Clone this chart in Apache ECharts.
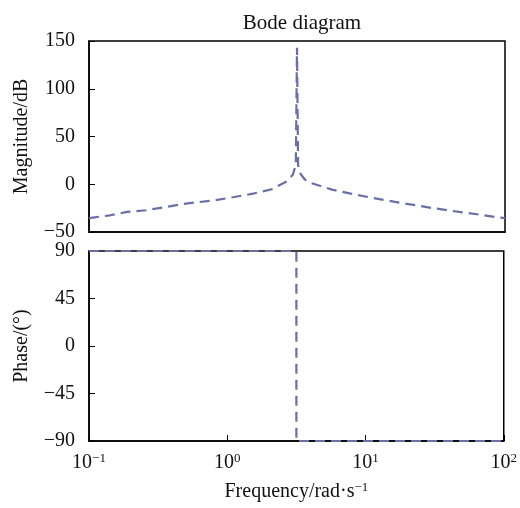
<!DOCTYPE html>
<html>
<head>
<meta charset="utf-8">
<script src="https://cdn.jsdelivr.net/npm/echarts@6/dist/echarts.min.js"></script>
<style>
  html, body { margin: 0; padding: 0; background: #fff; }
  #chart { width: 520px; height: 508px; }
</style>
</head>
<body>
<div id="chart"></div>
<script>
// 幅频数据
var magFreq = [0.1, 0.11, 0.142, 0.188, 0.258, 0.359, 0.501, 0.809, 1.09, 1.52, 2.08, 2.68, 2.95, 3.1, 3.162, 3.22, 3.35, 3.6, 4.05, 5.65, 7.74, 10.8, 16.1, 20.6, 30.2, 42, 62.7, 91.8, 100];
var magDb   = [-35.5, -34.6, -32.5, -29, -27.2, -23.8, -20.2, -16.8, -13.6, -9.9, -5.2, 3.1, 10, 20, 143, 20, 11, 5, 1, -5.6, -9.8, -14, -18.5, -21, -25, -28, -31.4, -35, -35.5];
// 相频数据
var phaseFreq = [0.1, 3.162, 3.162, 100];
var phaseDeg  = [90, 90, -90, -90];
// 刻度
var magTicks = [-50, 0, 50, 100, 150];
var phaseTicks = [-90, -45, 0, 45, 90];

var font = 'Liberation Serif, Times New Roman, serif';
var lineColor = '#6b6fa8';

(function () {
  var myChart = echarts.init(document.getElementById('chart'));

  function pairs(xs, ys) {
    return xs.map(function (x, i) { return [x, ys[i]]; });
  }

  var supLabel = function (v) {
    var e = Math.round(Math.log10(v));
    var s = e < 0 ? '\u2212' + (-e) : String(e);
    return '{b|10}{s|' + s + '}';
  };

  var axisLine = { show: true, onZero: false, lineStyle: { color: '#000', width: 1.5 } };
  var labelBase = { color: '#111', fontFamily: font, fontSize: 20 };
  var supRich = {
    b: { fontFamily: font, fontSize: 20, color: '#111' },
    t: { fontFamily: font, fontSize: 20, color: '#111' },
    s: { fontFamily: font, fontSize: 13, color: '#111', verticalAlign: 'top', padding: [0, 0, 9, 0] }
  };

  var option = {
    animation: false,
    title: {
      text: 'Bode diagram',
      left: 297, top: 8, textAlign: 'center',
      textStyle: { fontFamily: font, fontSize: 21, fontWeight: 'normal', color: '#111' }
    },
    grid: [
      { left: 89, right: 15, top: 41, height: 191, show: true, borderColor: '#000', borderWidth: 1.5 },
      { left: 89, right: 15, top: 251, height: 190, show: true, borderColor: '#000', borderWidth: 1.5 }
    ],
    xAxis: [
      {
        gridIndex: 0, type: 'log', logBase: 10, min: 0.1, max: 100,
        axisLine: axisLine, axisTick: { show: false }, axisLabel: { show: false },
        splitLine: { show: false }, minorTick: { show: false }
      },
      {
        gridIndex: 1, type: 'log', logBase: 10, min: 0.1, max: 100,
        axisLine: axisLine,
        axisTick: { show: true, inside: true, length: 6, lineStyle: { color: '#000' } },
        splitLine: { show: false },
        axisLabel: { margin: 11, formatter: supLabel, rich: supRich },
        name: '{t|Frequency/rad\u00b7s}{s|\u22121}',
        nameLocation: 'middle', nameGap: 40,
        nameTextStyle: { rich: supRich }
      }
    ],
    yAxis: [
      {
        gridIndex: 0, type: 'value', min: -50, max: 150, interval: 50,
        axisLine: axisLine,
        axisTick: { show: true, inside: true, length: 6, lineStyle: { color: '#000' } },
        splitLine: { show: false },
        axisLabel: Object.assign({ margin: 14 }, labelBase, {
          formatter: function (v) { return magTicks.indexOf(v) < 0 ? '' : String(v).replace('-', '\u2212'); }
        }),
        name: 'Magnitude/dB', nameLocation: 'middle', nameGap: 57,
        nameTextStyle: labelBase
      },
      {
        gridIndex: 1, type: 'value', min: -90, max: 90, interval: 45,
        axisLine: axisLine,
        axisTick: { show: true, inside: true, length: 6, lineStyle: { color: '#000' } },
        splitLine: { show: false },
        axisLabel: Object.assign({ margin: 14 }, labelBase, {
          formatter: function (v) { return phaseTicks.indexOf(v) < 0 ? '' : String(v).replace('-', '\u2212'); }
        }),
        name: 'Phase/(\u00b0)', nameLocation: 'middle', nameGap: 57,
        nameTextStyle: labelBase
      }
    ],
    series: [
      {
        type: 'line', xAxisIndex: 0, yAxisIndex: 0,
        data: pairs(magFreq, magDb),
        showSymbol: false, clip: false,
        lineStyle: { color: lineColor, width: 2.2, type: [10, 6] }
      },
      {
        type: 'line', xAxisIndex: 1, yAxisIndex: 1,
        data: pairs(phaseFreq, phaseDeg),
        showSymbol: false, clip: false,
        lineStyle: { color: lineColor, width: 2.2, type: [10, 6] }
      }
    ]
  };

  myChart.setOption(option);
})();
</script>
</body>
</html>
